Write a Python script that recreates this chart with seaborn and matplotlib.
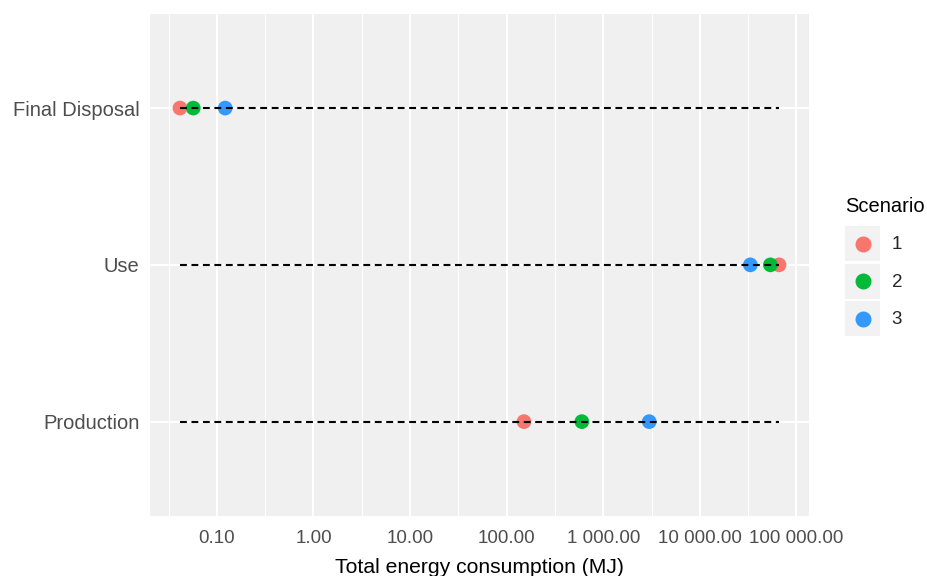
import numpy as np
import pandas as pd
import matplotlib
matplotlib.use("Agg")
import matplotlib.pyplot as plt
import seaborn as sns
from matplotlib.ticker import FuncFormatter, FixedLocator
from matplotlib.legend_handler import HandlerBase
from matplotlib.patches import Rectangle
from matplotlib.lines import Line2D

# Life-cycle stages and per-scenario energy use (MJ)
stages = ["Production", "Use", "Final Disposal"]
scenarios = ["1", "2", "3"]
energy_s1 = [151, 66000, 0.0415]
energy_s2 = [600, 53700, 0.057]
energy_s3 = [2990, 33300, 0.122]
scenario_colors = ["#F8766D", "#00BA38", "#3399FF"]

df = pd.DataFrame({
    "Stage": stages * 3,
    "Scenario": [s for s in scenarios for _ in stages],
    "Energy": energy_s1 + energy_s2 + energy_s3,
})
palette = dict(zip(scenarios, scenario_colors))

sns.set_style("white")
plt.rcParams["font.family"] = ["Liberation Sans", "DejaVu Sans"]

fig = plt.figure(figsize=(9.28, 5.76), dpi=100)
ax = fig.add_axes([150 / 928, 1 - 515.7 / 576, 659 / 928, 501.7 / 576])
ax.set_facecolor("#F0F0F0")

sns.scatterplot(data=df, x="Energy", y="Stage", hue="Scenario", palette=palette,
                s=112, linewidth=0, ax=ax, legend=False, zorder=3)

# dashed guide spanning the full data range on every stage
lo, hi = df["Energy"].min(), df["Energy"].max()
ax.hlines(y=stages, xmin=lo, xmax=hi, colors="black", linestyles=(0, (3.3, 2.2)),
          linewidth=1.5, zorder=4)

ax.set_xscale("log")
span = np.log10(hi) - np.log10(lo)
ax.set_xlim(10 ** (np.log10(lo) - 0.05 * span), 10 ** (np.log10(hi) + 0.05 * span))
ax.set_ylim(-0.6, 2.6)

major = 10.0 ** np.arange(-2, 7)
minor = 10.0 ** (np.arange(-3, 7) + 0.5)
ax.xaxis.set_major_locator(FixedLocator(major))
ax.xaxis.set_minor_locator(FixedLocator(minor))
ax.xaxis.set_major_formatter(FuncFormatter(lambda v, p: f"{v:,.2f}".replace(",", " ")))

ax.grid(which="major", color="white", linewidth=1.5)
ax.grid(which="minor", axis="x", color="white", linewidth=0.75)
ax.set_axisbelow(True)
for sp in ax.spines.values():
    sp.set_visible(False)

ax.tick_params(axis="both", which="major", length=4.5, width=1.1, color="#333333",
               labelcolor="#4D4D4D", pad=3)
ax.tick_params(axis="x", which="major", labelsize=13.5, pad=6)
ax.tick_params(axis="y", which="major", labelsize=14.5)
ax.tick_params(axis="x", which="minor", length=0)
ax.set_xlabel("Total energy consumption (MJ)", fontsize=15.2, color="black", labelpad=8)
ax.set_ylabel("")


class KeyHandler(HandlerBase):
    """Legend key drawn as a grey square with a centred dot."""

    def create_artists(self, legend, orig_handle, xdescent, ydescent, width, height,
                       fontsize, trans):
        rect = Rectangle((-xdescent, -ydescent), width, height, facecolor="#F2F2F2",
                         edgecolor="none", transform=trans)
        dot = Line2D([width / 2 - xdescent], [height / 2 - ydescent], marker="o",
                     markersize=10.5, color=orig_handle.get_color(), linestyle="none",
                     transform=trans)
        return [rect, dot]


fig.text(845 / 928, 1 - 207 / 576, "Scenario", fontsize=14.5, color="black",
         ha="left", va="center")
handles = [Line2D([], [], color=palette[s], marker="o", linestyle="none") for s in scenarios]
leg = fig.legend(handles, scenarios, loc="upper left",
                 bbox_to_anchor=(845 / 928, 1 - 226 / 576), frameon=False,
                 fontsize=13.5, borderpad=0, borderaxespad=0,
                 handlelength=1.87, handleheight=2.5, handletextpad=0.62,
                 labelspacing=0.13,
                 handler_map={Line2D: KeyHandler()})

fig.savefig("out.png", dpi=100)
